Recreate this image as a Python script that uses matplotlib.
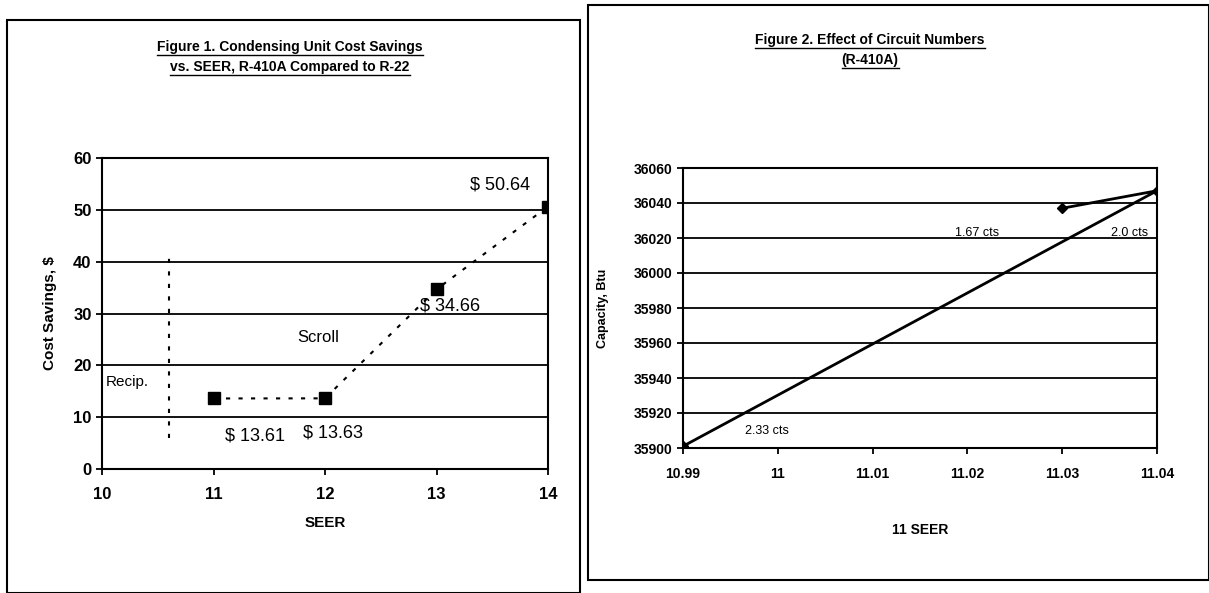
import numpy as np
import matplotlib.pyplot as plt
from matplotlib.patches import Rectangle
from matplotlib.lines import Line2D

plt.rcParams['font.family'] = ['Liberation Sans', 'DejaVu Sans']

# Figure 1 data
seer = [11, 12, 13, 14]
savings = [13.61, 13.63, 34.66, 50.64]
saving_labels = ["$ 13.61", "$ 13.63", "$ 34.66", "$ 50.64"]

# Figure 2 data (order as plotted)
seer2 = [10.99, 11.04, 11.03]
capacity = [35901, 36047, 36037]
circuit_labels = ["2.33 cts", "2.0 cts", "1.67 cts"]

fig = plt.figure(figsize=(12.09, 5.93), dpi=100)

# panel frames
fig.add_artist(Rectangle((7/1209, 0.0), 573/1209, 1 - 20/593, transform=fig.transFigure,
                         fill=False, lw=1.5, ec='black'))
fig.add_artist(Rectangle((588/1209, 1 - 580/593), 621/1209, 575/593, transform=fig.transFigure,
                         fill=False, lw=1.5, ec='black'))

# ---- Figure 1 ----
ax1 = fig.add_axes([102/1209, 1 - 469/593, 446/1209, 311/593])
ax1.plot(seer, savings, ls=(0, (2, 4)), color='black', lw=1.5, marker='s', ms=8,
         mfc='black', mec='black')
ax1.plot([10.6, 10.6], [6, 41], ls=(0, (2, 4)), color='black', lw=1.5)
ax1.set_xlim(10, 14)
ax1.set_ylim(0, 60)
ax1.set_xticks([10, 11, 12, 13, 14])
ax1.set_yticks(range(0, 61, 10))
ax1.grid(axis='y', color='black', lw=1.3)
ax1.set_axisbelow(True)
for s in ax1.spines.values():
    s.set_linewidth(1.5)
ax1.tick_params(labelsize=12, width=1.3, length=4)
ax1.tick_params(axis='x', pad=9)
for lab in ax1.get_xticklabels() + ax1.get_yticklabels():
    lab.set_fontweight('bold')
ax1.set_xlabel("SEER", fontsize=11, fontweight='bold', labelpad=10)
ax1.set_ylabel("Cost Savings, $", fontsize=11, fontweight='bold', labelpad=12)
lab_pos = [(11.1, 5.5), (11.8, 6.0), (12.85, 30.5), (13.3, 54.0)]
for (x, y), t in zip(lab_pos, saving_labels):
    ax1.text(x, y, t, fontsize=13)
ax1.text(10.03, 16, "Recip.", fontsize=11)
ax1.text(11.75, 24.5, "Scroll", fontsize=12)

# ---- Figure 2 ----
ax2 = fig.add_axes([683/1209, 1 - 448/593, 474/1209, 280/593])
ax2.plot(seer2, capacity, color='black', lw=2, marker='D', ms=5)
ax2.set_xlim(10.99, 11.04)
ax2.set_ylim(35900, 36060)
ax2.set_xticks([10.99, 11.0, 11.01, 11.02, 11.03, 11.04])
ax2.set_xticklabels(["10.99", "11", "11.01", "11.02", "11.03", "11.04"])
ax2.set_yticks(range(35900, 36061, 20))
ax2.grid(axis='y', color='black', lw=1.3)
ax2.set_axisbelow(True)
for s in ax2.spines.values():
    s.set_linewidth(1.5)
ax2.tick_params(labelsize=10, width=1.3, length=4)
ax2.tick_params(axis='x', pad=10)
for lab in ax2.get_xticklabels() + ax2.get_yticklabels():
    lab.set_fontweight('bold')
ax2.set_xlabel("11 SEER", fontsize=10, fontweight='bold', labelpad=30)
ax2.set_ylabel("Capacity, Btu", fontsize=9, fontweight='bold', labelpad=18)
lab_pos2 = [(10.9965, 35908), (11.0352, 36021), (11.0187, 36021)]
for (x, y), t in zip(lab_pos2, circuit_labels):
    ax2.text(x, y, t, fontsize=9)

# underlined titles
titles = [(290, [47, 67], ["Figure 1. Condensing Unit Cost Savings",
                           "vs. SEER, R-410A Compared to R-22"]),
          (870, [40, 60], ["Figure 2. Effect of Circuit Numbers", "(R-410A)"])]
fig.canvas.draw()
r = fig.canvas.get_renderer()
for cx, ys, lines in titles:
    for y, line in zip(ys, lines):
        t = fig.text(cx / 1209, 1 - y / 593, line, ha='center', va='center',
                     fontsize=10, fontweight='bold')
        bb = t.get_window_extent(renderer=r).transformed(fig.transFigure.inverted())
        fig.add_artist(Line2D([bb.x0, bb.x1], [bb.y0 - 0.002, bb.y0 - 0.002],
                              transform=fig.transFigure, color='black', lw=1))

fig.savefig("out.png", dpi=100)
